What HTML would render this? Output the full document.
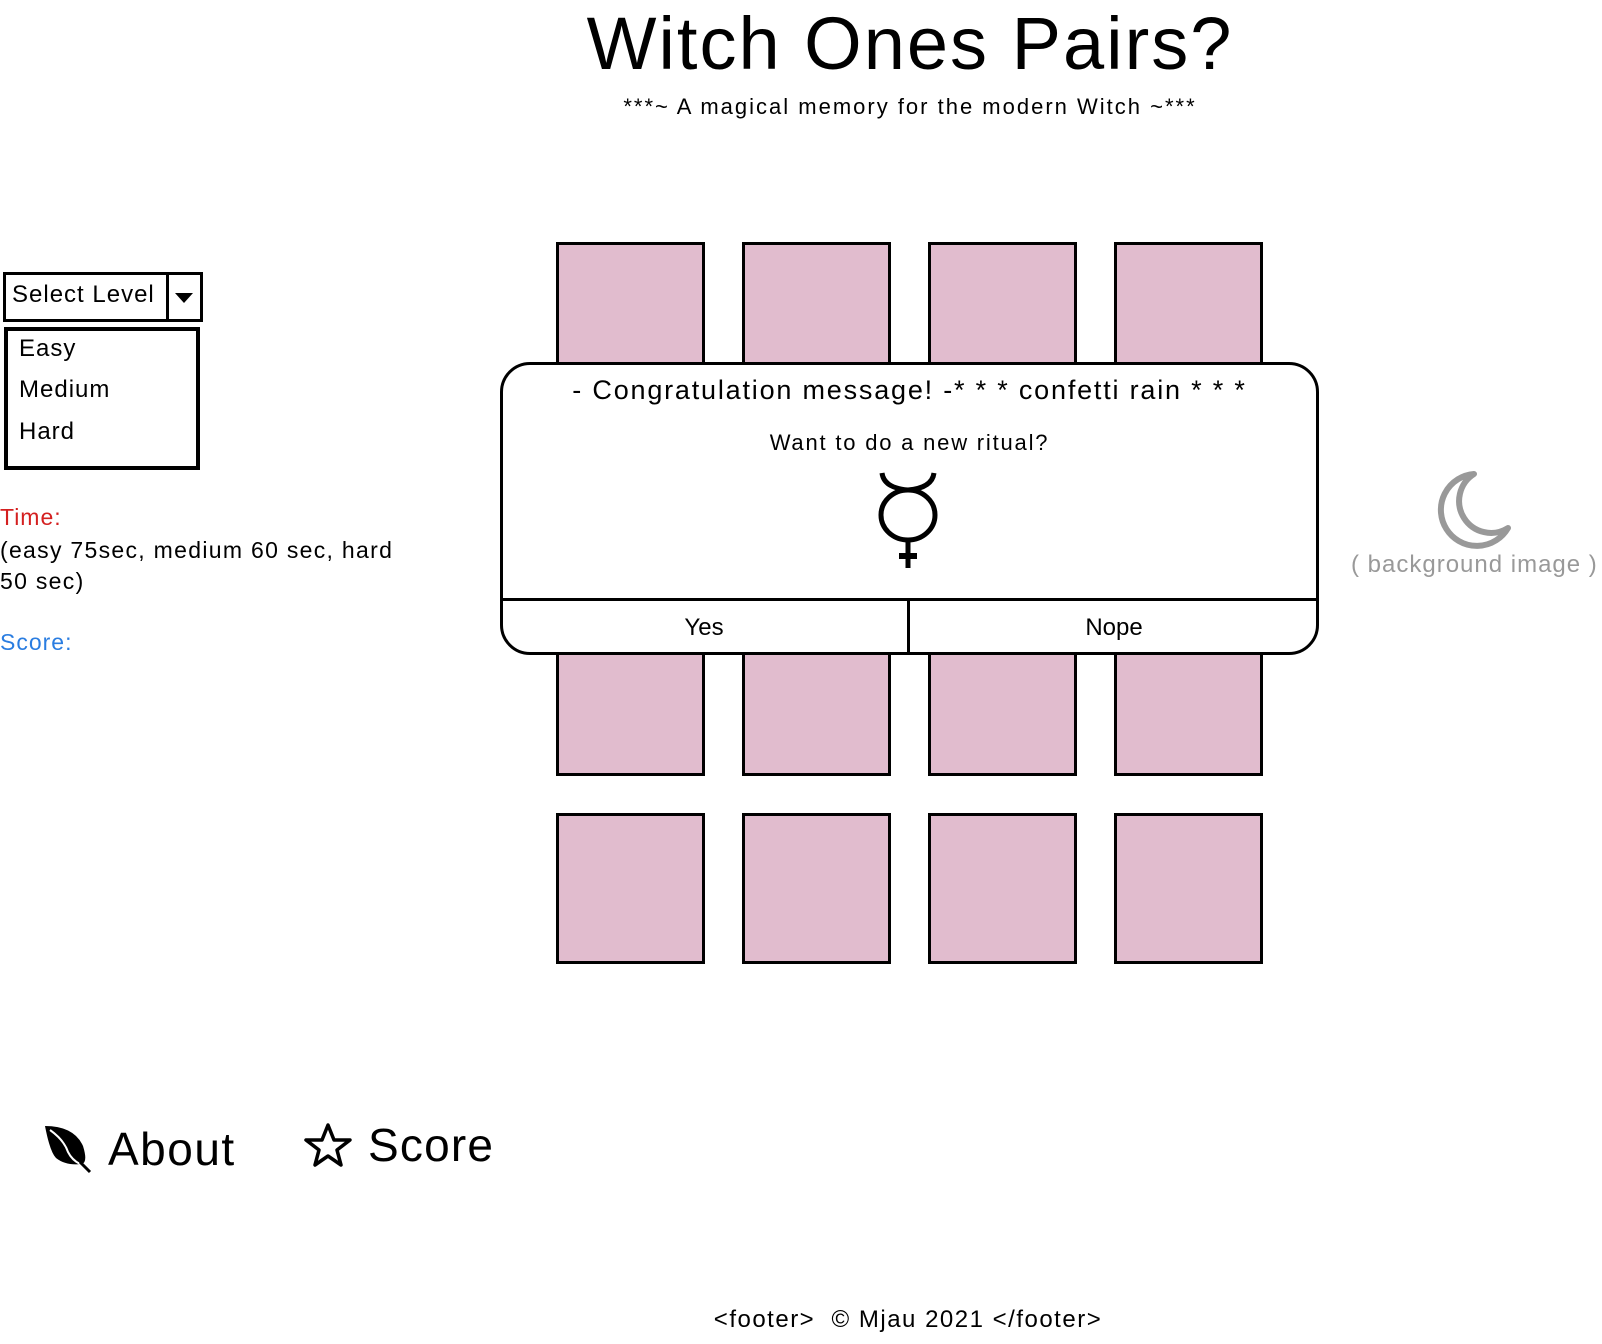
<!DOCTYPE html>
<html><head><meta charset="utf-8"><style>
body{margin:0;width:1602px;height:1344px;background:#fff;position:relative;overflow:hidden;font-family:"Liberation Sans",sans-serif;color:#000}
.a{position:absolute;white-space:nowrap}
.card{position:absolute;background:#e1bcce;border:3px solid #000;box-sizing:border-box;width:149px;height:151px}
</style></head><body>
<div class="a" style="left:0;width:1820px;top:0;text-align:center;font-size:74px;line-height:88px;letter-spacing:2px">Witch Ones Pairs?</div>
<div class="a" style="left:0;width:1820px;top:94px;text-align:center;font-size:22px;line-height:26px;letter-spacing:2px">***~ A magical memory for the modern Witch ~***</div>

<div class="card" style="left:556px;top:242px"></div>
<div class="card" style="left:742px;top:242px"></div>
<div class="card" style="left:928px;top:242px"></div>
<div class="card" style="left:1114px;top:242px"></div>
<div class="card" style="left:556px;top:625px"></div>
<div class="card" style="left:742px;top:625px"></div>
<div class="card" style="left:928px;top:625px"></div>
<div class="card" style="left:1114px;top:625px"></div>
<div class="card" style="left:556px;top:813px"></div>
<div class="card" style="left:742px;top:813px"></div>
<div class="card" style="left:928px;top:813px"></div>
<div class="card" style="left:1114px;top:813px"></div>

<div style="position:absolute;left:500px;top:362px;width:819px;height:293px;box-sizing:border-box;border:3px solid #000;border-radius:30px;background:#fff"></div>
<div style="position:absolute;left:502px;top:598px;width:815px;height:3px;background:#000"></div>
<div style="position:absolute;left:907px;top:600px;width:3px;height:54px;background:#000"></div>
<div class="a" style="left:500px;width:819px;top:374px;text-align:center;font-size:27px;line-height:32px;letter-spacing:1.8px">- Congratulation message! -* * * confetti rain * * *</div>
<div class="a" style="left:500px;width:819px;top:430px;text-align:center;font-size:22px;line-height:26px;letter-spacing:1.8px">Want to do a new ritual?</div>
<svg style="position:absolute;left:870px;top:470px" width="76" height="100" viewBox="0 0 76 100">
<path d="M12 3 Q14 18 38 20 Q62 18 64 3" fill="none" stroke="#000" stroke-width="5"/>
<ellipse cx="38" cy="45" rx="27" ry="25" fill="none" stroke="#000" stroke-width="5"/>
<line x1="38" y1="70" x2="38" y2="98" stroke="#000" stroke-width="5"/>
<line x1="29" y1="86" x2="47" y2="86" stroke="#000" stroke-width="6"/>
</svg>
<div class="a" style="left:500px;width:408px;top:614px;text-align:center;font-size:24px;line-height:28px">Yes</div>
<div class="a" style="left:909px;width:410px;top:614px;text-align:center;font-size:24px;line-height:28px">Nope</div>

<div style="position:absolute;left:3px;top:272px;width:200px;height:50px;box-sizing:border-box;border:3px solid #000"></div>
<div style="position:absolute;left:166px;top:273px;width:3px;height:48px;background:#000"></div>
<div class="a" style="left:12px;top:281px;font-size:24px;line-height:28px;letter-spacing:1px">Select Level</div>
<div style="position:absolute;left:175px;top:293px;width:0;height:0;border-left:9px solid transparent;border-right:9px solid transparent;border-top:10px solid #000"></div>
<div style="position:absolute;left:4px;top:327px;width:196px;height:143px;box-sizing:border-box;border:4px solid #000"></div>
<div class="a" style="left:19px;top:335px;font-size:24px;line-height:28px;letter-spacing:1px">Easy</div>
<div class="a" style="left:19px;top:376px;font-size:24px;line-height:28px;letter-spacing:1px">Medium</div>
<div class="a" style="left:19px;top:418px;font-size:24px;line-height:28px;letter-spacing:1px">Hard</div>

<div class="a" style="left:0;top:503px;font-size:23px;line-height:28px;color:#d42020;letter-spacing:1px">Time:</div>
<div class="a" style="left:0;top:535px;font-size:23px;line-height:31px;letter-spacing:1.3px">(easy 75sec, medium 60 sec, hard<br>50 sec)</div>
<div class="a" style="left:0;top:628px;font-size:23px;line-height:28px;color:#2a7de1;letter-spacing:1px">Score:</div>

<svg style="position:absolute;left:1432px;top:468px" width="86" height="86" viewBox="0 0 86 86">
<path d="M42 6 A36 36 0 1 0 76 60 A30 30 0 0 1 42 6 Z" fill="none" stroke="#999" stroke-width="6" stroke-linejoin="round"/>
</svg>
<div class="a" style="left:1351px;top:551px;font-size:24px;line-height:28px;color:#999;letter-spacing:1px">( background image )</div>

<svg style="position:absolute;left:44px;top:1124px" width="50" height="50" viewBox="0 0 50 50">
<path d="M1 2 Q30 2 39 22 Q44 38 38 40 Q22 42 12 34 Q6 28 1 2 Z" fill="#000"/>
<path d="M6 6 Q20 16 24 28 Q28 36 36 40" fill="none" stroke="#fff" stroke-width="2"/>
<line x1="36" y1="38" x2="46" y2="48" stroke="#000" stroke-width="3"/>
</svg>
<div class="a" style="left:108px;top:1122px;font-size:46px;line-height:54px;letter-spacing:1.5px">About</div>
<svg style="position:absolute;left:304px;top:1122px" width="48" height="46" viewBox="0 0 48 46">
<polygon points="24,3 30,18 46,18 33,28 37,43 24,34 11,43 15,28 2,18 18,18" fill="none" stroke="#000" stroke-width="3.5" stroke-linejoin="round"/>
</svg>
<div class="a" style="left:368px;top:1118px;font-size:46px;line-height:54px;letter-spacing:1.2px">Score</div>

<div class="a" style="left:0;width:1816px;top:1306px;text-align:center;font-size:24px;line-height:28px;letter-spacing:1.5px">&lt;footer&gt;&nbsp; © Mjau 2021 &lt;/footer&gt;</div>
</body></html>
